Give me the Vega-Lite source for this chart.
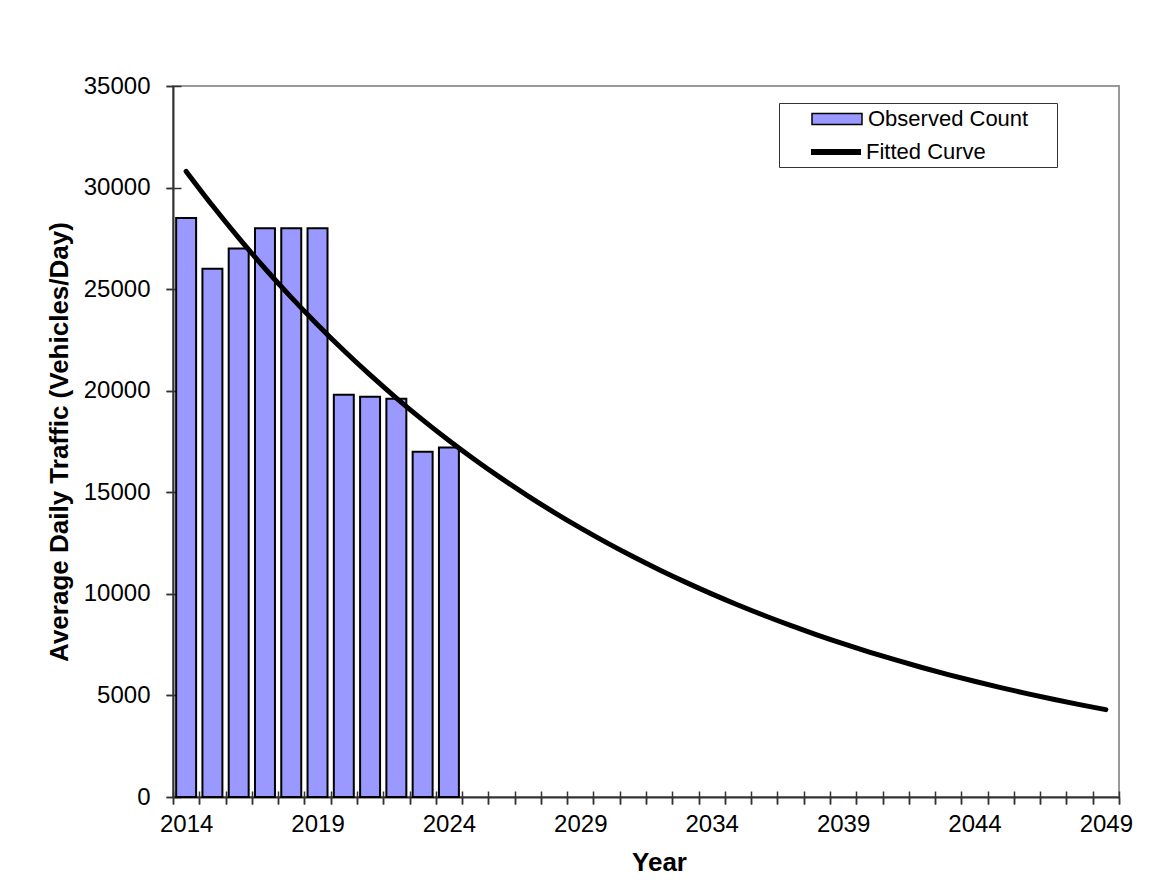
{
  "$schema": "https://vega.github.io/schema/vega-lite/v6.json",
  "autosize": "none",
  "width": 946,
  "height": 711,
  "padding": {"left": 173, "top": 86, "right": 49, "bottom": 87},
  "background": "white",
  "config": {
    "font": "Liberation Sans",
    "view": {"stroke": "#999999", "strokeWidth": 2},
    "axis": {"labelFont": "Liberation Sans", "titleFont": "Liberation Sans", "labelColor": "black", "titleColor": "black", "grid": false}
  },
  "datasets": {
    "obs": [
      {"year": 2014, "count": 28500},
      {"year": 2015, "count": 26000},
      {"year": 2016, "count": 27000},
      {"year": 2017, "count": 28000},
      {"year": 2018, "count": 28000},
      {"year": 2019, "count": 28000},
      {"year": 2020, "count": 19800},
      {"year": 2021, "count": 19700},
      {"year": 2022, "count": 19600},
      {"year": 2023, "count": 17000},
      {"year": 2024, "count": 17200}
    ],
    "fit": [
      {"year": 2014, "fitted": 30800},
      {"year": 2015, "fitted": 29115},
      {"year": 2016, "fitted": 27523},
      {"year": 2017, "fitted": 26017},
      {"year": 2018, "fitted": 24594},
      {"year": 2019, "fitted": 23249},
      {"year": 2020, "fitted": 21977},
      {"year": 2021, "fitted": 20775},
      {"year": 2022, "fitted": 19639},
      {"year": 2023, "fitted": 18565},
      {"year": 2024, "fitted": 17549},
      {"year": 2025, "fitted": 16589},
      {"year": 2026, "fitted": 15682},
      {"year": 2027, "fitted": 14824},
      {"year": 2028, "fitted": 14013},
      {"year": 2029, "fitted": 13247},
      {"year": 2030, "fitted": 12522},
      {"year": 2031, "fitted": 11837},
      {"year": 2032, "fitted": 11190},
      {"year": 2033, "fitted": 10578},
      {"year": 2034, "fitted": 9999},
      {"year": 2035, "fitted": 9452},
      {"year": 2036, "fitted": 8935},
      {"year": 2037, "fitted": 8446},
      {"year": 2038, "fitted": 7984},
      {"year": 2039, "fitted": 7548},
      {"year": 2040, "fitted": 7135},
      {"year": 2041, "fitted": 6745},
      {"year": 2042, "fitted": 6376},
      {"year": 2043, "fitted": 6027},
      {"year": 2044, "fitted": 5697},
      {"year": 2045, "fitted": 5386},
      {"year": 2046, "fitted": 5091},
      {"year": 2047, "fitted": 4813},
      {"year": 2048, "fitted": 4549},
      {"year": 2049, "fitted": 4301}
    ]
  },
  "layer": [
    {
      "data": {"name": "obs"},
      "mark": {"type": "bar", "width": {"band": 0.76}, "stroke": "black", "strokeWidth": 2},
      "encoding": {
        "x": {
          "field": "year", "type": "ordinal",
          "scale": {"paddingInner": 0, "paddingOuter": 0},
          "axis": {
            "orient": "bottom", "title": "Year", "titleFontSize": 26, "titleFontWeight": "bold",
            "titlePadding": 13, "titleX": 486,
            "labelAngle": 0, "labelFontSize": 24, "labelPadding": 8,
            "labelExpr": "(datum.value - 2014) % 5 === 0 ? datum.label : ''",
            "tickBand": "extent", "tickSize": 7, "tickColor": "#333333", "tickWidth": 1.5,
            "domainColor": "#333333", "domainWidth": 2
          }
        },
        "y": {
          "field": "count", "type": "quantitative",
          "scale": {"domain": [0, 35000]},
          "axis": {
            "orient": "left", "title": "Average Daily Traffic (Vehicles/Day)", "titleFontSize": 26, "titleFontWeight": "bold",
            "titlePadding": 11,
            "values": [0, 5000, 10000, 15000, 20000, 25000, 30000, 35000], "format": "d",
            "labelFontSize": 24, "labelPadding": 16,
            "tickSize": 7, "tickColor": "#333333", "tickWidth": 1.5,
            "domainColor": "#333333", "domainWidth": 2
          }
        },
        "fill": {
          "datum": "Observed Count", "type": "nominal",
          "scale": {"domain": ["Observed Count"], "range": ["#9999ff"]},
          "legend": {
            "orient": "none", "legendX": 606, "legendY": 17,
            "title": "\u00a0", "titleOrient": "bottom", "titleFontSize": 19, "titlePadding": 12,
            "strokeColor": "#333333", "padding": 6,
            "labelFont": "Liberation Sans", "labelFontSize": 22, "labelColor": "black", "labelLimit": 400,
            "labelExpr": "datum.label + '\u00a0\u2800'",
            "symbolType": "M-1,-0.22H1V0.22H-1Z", "symbolSize": 2500,
            "symbolOffset": 26, "labelOffset": 5, "clipHeight": 20,
            "symbolStrokeColor": "black", "symbolStrokeWidth": 1.5
          }
        }
      }
    },
    {
      "data": {"name": "fit"},
      "mark": {"type": "line", "strokeWidth": 5, "strokeCap": "round", "interpolate": "monotone"},
      "encoding": {
        "x": {
          "field": "year", "type": "ordinal",
          "axis": {
            "orient": "bottom", "title": null, "labels": false, "domain": false,
            "tickBand": "extent", "offset": -6, "tickSize": 13, "tickColor": "#333333", "tickWidth": 1.5
          }
        },
        "y": {
          "field": "fitted", "type": "quantitative",
          "axis": {
            "orient": "left", "title": null, "labels": false, "domain": false,
            "values": [0, 5000, 10000, 15000, 20000, 25000, 30000, 35000],
            "offset": -8, "tickSize": 15, "tickColor": "#333333", "tickWidth": 1.5
          }
        },
        "stroke": {
          "datum": "Fitted Curve", "type": "nominal",
          "scale": {"domain": ["Fitted Curve"], "range": ["black"]},
          "legend": {
            "orient": "none", "legendX": 609, "legendY": 56, "title": null, "padding": 0,
            "labelFont": "Liberation Sans", "labelFontSize": 22, "labelColor": "black", "labelLimit": 400,
            "symbolType": "stroke", "symbolSize": 2500, "symbolStrokeWidth": 6,
            "symbolOffset": 26, "labelOffset": 2, "clipHeight": 20
          }
        }
      }
    }
  ],
  "resolve": {"axis": {"x": "independent", "y": "independent"}}
}
